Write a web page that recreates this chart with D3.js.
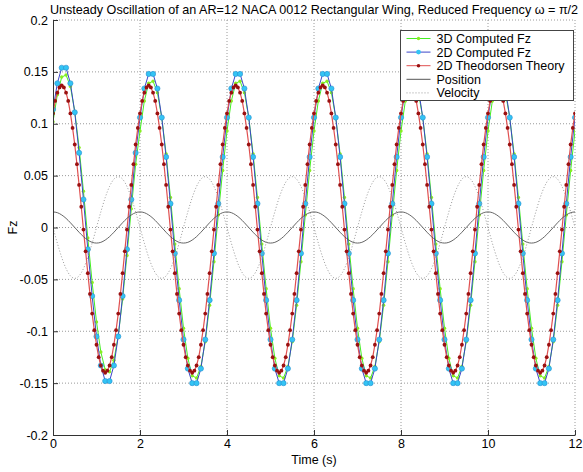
<!DOCTYPE html>
<meta charset="utf-8">
<title>Unsteady Oscillation of an AR=12 NACA 0012 Rectangular Wing</title>
<style>

body { margin: 0; background: #fff; }
text { font-family: Arial, "Liberation Sans", sans-serif; font-size: 12px; fill: #000; }
.grid line { stroke: #9a9a9a; stroke-dasharray: 1,2; }
.axis path, .axis line { stroke: #333; }

</style>
<body>

<div id="chart"></div>

<script src="https://d3js.org/d3.v7.min.js"></script>
<script>

  // sampling steps of the series (s)
  var dtComputed = 0.1,
      dtTheory = 0.05;

  var xTicks = [0, 2, 4, 6, 8, 10, 12];
  var yTicks = [-0.2, -0.15, -0.1, -0.05, 0, 0.05, 0.1, 0.15, 0.2];
  var yTickLabels = ["-0.2", "-0.15", "-0.1", "-0.05", "0", "0.05", "0.1", "0.15", "0.2"];

  var seriesNames = ["3D Computed Fz", "2D Computed Fz", "2D Theodorsen Theory", "Position", "Velocity"];

  // 3D computed Fz, every 0.1 s
  var fz3d = [
    0.102,0.128,0.145,0.147,0.136,0.112,0.077,0.035,-0.010,-0.053,-0.091,-0.120,-0.137,-0.139,-0.128,-0.104,-0.069,-0.027,0.018,0.061,
    0.093,0.122,0.139,0.141,0.130,0.106,0.071,0.029,-0.016,-0.059,-0.097,-0.126,-0.143,-0.145,-0.134,-0.110,-0.075,-0.033,0.012,0.055,
    0.093,0.122,0.139,0.141,0.130,0.106,0.071,0.029,-0.016,-0.059,-0.097,-0.126,-0.143,-0.145,-0.134,-0.110,-0.075,-0.033,0.012,0.055,
    0.093,0.122,0.139,0.141,0.130,0.106,0.071,0.029,-0.016,-0.059,-0.097,-0.126,-0.143,-0.145,-0.134,-0.110,-0.075,-0.033,0.012,0.055,
    0.093,0.122,0.139,0.141,0.130,0.106,0.071,0.029,-0.016,-0.059,-0.097,-0.126,-0.143,-0.145,-0.134,-0.110,-0.075,-0.033,0.012,0.055,
    0.093,0.122,0.139,0.141,0.130,0.106,0.071,0.029,-0.016,-0.059,-0.097,-0.126,-0.143,-0.145,-0.134,-0.110,-0.075,-0.033,0.012,0.055,
    0.093];

  // 2D computed Fz, every 0.1 s
  var fz2d = [
    0.114,0.139,0.154,0.154,0.139,0.111,0.072,0.027,-0.021,-0.066,-0.105,-0.133,-0.148,-0.148,-0.133,-0.105,-0.066,-0.021,0.027,0.072,
    0.106,0.134,0.148,0.148,0.134,0.106,0.068,0.023,-0.025,-0.070,-0.108,-0.136,-0.150,-0.150,-0.136,-0.108,-0.070,-0.025,0.023,0.068,
    0.106,0.134,0.148,0.148,0.134,0.106,0.068,0.023,-0.025,-0.070,-0.108,-0.136,-0.150,-0.150,-0.136,-0.108,-0.070,-0.025,0.023,0.068,
    0.106,0.134,0.148,0.148,0.134,0.106,0.068,0.023,-0.025,-0.070,-0.108,-0.136,-0.150,-0.150,-0.136,-0.108,-0.070,-0.025,0.023,0.068,
    0.106,0.134,0.148,0.148,0.134,0.106,0.068,0.023,-0.025,-0.070,-0.108,-0.136,-0.150,-0.150,-0.136,-0.108,-0.070,-0.025,0.023,0.068,
    0.106,0.134,0.148,0.148,0.134,0.106,0.068,0.023,-0.025,-0.070,-0.108,-0.136,-0.150,-0.150,-0.136,-0.108,-0.070,-0.025,0.023,0.068,
    0.106];

  // 2D Theodorsen theory, every 0.05 s
  var fzTheory = [
    0.110,0.122,0.130,0.135,0.137,0.135,0.130,0.122,0.110,0.096,0.080,0.061,0.041,0.020,-0.002,-0.023,-0.044,-0.064,-0.083,-0.099,
    -0.113,-0.125,-0.133,-0.138,-0.140,-0.138,-0.133,-0.125,-0.113,-0.099,-0.083,-0.064,-0.044,-0.023,-0.002,0.020,0.041,0.061,0.080,0.096,
    0.110,0.122,0.130,0.135,0.137,0.135,0.130,0.122,0.110,0.096,0.080,0.061,0.041,0.020,-0.002,-0.023,-0.044,-0.064,-0.083,-0.099,
    -0.113,-0.125,-0.133,-0.138,-0.140,-0.138,-0.133,-0.125,-0.113,-0.099,-0.083,-0.064,-0.044,-0.023,-0.002,0.020,0.041,0.061,0.080,0.096,
    0.110,0.122,0.130,0.135,0.137,0.135,0.130,0.122,0.110,0.096,0.080,0.061,0.041,0.020,-0.002,-0.023,-0.044,-0.064,-0.083,-0.099,
    -0.113,-0.125,-0.133,-0.138,-0.140,-0.138,-0.133,-0.125,-0.113,-0.099,-0.083,-0.064,-0.044,-0.023,-0.002,0.020,0.041,0.061,0.080,0.096,
    0.110,0.122,0.130,0.135,0.137,0.135,0.130,0.122,0.110,0.096,0.080,0.061,0.041,0.020,-0.002,-0.023,-0.044,-0.064,-0.083,-0.099,
    -0.113,-0.125,-0.133,-0.138,-0.140,-0.138,-0.133,-0.125,-0.113,-0.099,-0.083,-0.064,-0.044,-0.023,-0.002,0.020,0.041,0.061,0.080,0.096,
    0.110,0.122,0.130,0.135,0.137,0.135,0.130,0.122,0.110,0.096,0.080,0.061,0.041,0.020,-0.002,-0.023,-0.044,-0.064,-0.083,-0.099,
    -0.113,-0.125,-0.133,-0.138,-0.140,-0.138,-0.133,-0.125,-0.113,-0.099,-0.083,-0.064,-0.044,-0.023,-0.002,0.020,0.041,0.061,0.080,0.096,
    0.110,0.122,0.130,0.135,0.137,0.135,0.130,0.122,0.110,0.096,0.080,0.061,0.041,0.020,-0.002,-0.023,-0.044,-0.064,-0.083,-0.099,
    -0.113,-0.125,-0.133,-0.138,-0.140,-0.138,-0.133,-0.125,-0.113,-0.099,-0.083,-0.064,-0.044,-0.023,-0.002,0.020,0.041,0.061,0.080,0.096,
    0.110];

  // wing position (scaled), every 0.1 s
  var position = [
    0.0150,0.0143,0.0121,0.0088,0.0046,0.0000,-0.0046,-0.0088,-0.0121,-0.0143,-0.0150,-0.0143,-0.0121,-0.0088,-0.0046,0.0000,0.0046,0.0088,0.0121,0.0143,
    0.0150,0.0143,0.0121,0.0088,0.0046,0.0000,-0.0046,-0.0088,-0.0121,-0.0143,-0.0150,-0.0143,-0.0121,-0.0088,-0.0046,0.0000,0.0046,0.0088,0.0121,0.0143,
    0.0150,0.0143,0.0121,0.0088,0.0046,0.0000,-0.0046,-0.0088,-0.0121,-0.0143,-0.0150,-0.0143,-0.0121,-0.0088,-0.0046,0.0000,0.0046,0.0088,0.0121,0.0143,
    0.0150,0.0143,0.0121,0.0088,0.0046,0.0000,-0.0046,-0.0088,-0.0121,-0.0143,-0.0150,-0.0143,-0.0121,-0.0088,-0.0046,0.0000,0.0046,0.0088,0.0121,0.0143,
    0.0150,0.0143,0.0121,0.0088,0.0046,0.0000,-0.0046,-0.0088,-0.0121,-0.0143,-0.0150,-0.0143,-0.0121,-0.0088,-0.0046,0.0000,0.0046,0.0088,0.0121,0.0143,
    0.0150,0.0143,0.0121,0.0088,0.0046,0.0000,-0.0046,-0.0088,-0.0121,-0.0143,-0.0150,-0.0143,-0.0121,-0.0088,-0.0046,0.0000,0.0046,0.0088,0.0121,0.0143,
    0.0150];

  // wing velocity (scaled), every 0.1 s
  var velocity = [
    0.0000,-0.0151,-0.0288,-0.0396,-0.0466,-0.0490,-0.0466,-0.0396,-0.0288,-0.0151,0.0000,0.0151,0.0288,0.0396,0.0466,0.0490,0.0466,0.0396,0.0288,0.0151,
    0.0000,-0.0151,-0.0288,-0.0396,-0.0466,-0.0490,-0.0466,-0.0396,-0.0288,-0.0151,0.0000,0.0151,0.0288,0.0396,0.0466,0.0490,0.0466,0.0396,0.0288,0.0151,
    0.0000,-0.0151,-0.0288,-0.0396,-0.0466,-0.0490,-0.0466,-0.0396,-0.0288,-0.0151,0.0000,0.0151,0.0288,0.0396,0.0466,0.0490,0.0466,0.0396,0.0288,0.0151,
    0.0000,-0.0151,-0.0288,-0.0396,-0.0466,-0.0490,-0.0466,-0.0396,-0.0288,-0.0151,0.0000,0.0151,0.0288,0.0396,0.0466,0.0490,0.0466,0.0396,0.0288,0.0151,
    0.0000,-0.0151,-0.0288,-0.0396,-0.0466,-0.0490,-0.0466,-0.0396,-0.0288,-0.0151,0.0000,0.0151,0.0288,0.0396,0.0466,0.0490,0.0466,0.0396,0.0288,0.0151,
    0.0000,-0.0151,-0.0288,-0.0396,-0.0466,-0.0490,-0.0466,-0.0396,-0.0288,-0.0151,0.0000,0.0151,0.0288,0.0396,0.0466,0.0490,0.0466,0.0396,0.0288,0.0151,
    0.0000];

  var margin = {top: 20, right: 8, bottom: 37, left: 53},
      width = 583 - margin.left - margin.right,
      height = 472 - margin.top - margin.bottom;

  var svg = d3.select("#chart").append("svg")
      .attr("width", 583)
      .attr("height", 472)
    .append("g")
      .attr("transform", "translate(" + margin.left + "," + margin.top + ")");

  var x = d3.scaleLinear().domain([0, 12]).range([0, width]);
  var y = d3.scaleLinear().domain([-0.2, 0.2]).range([height, 0]);

  // dotted grid, edges included (matlab style, box off)
  var grid = svg.append("g").attr("class", "grid");
  grid.selectAll(".gx").data(xTicks.slice(1)).enter().append("line")
      .attr("x1", function(d) { return x(d); })
      .attr("x2", function(d) { return x(d); })
      .attr("y1", 0).attr("y2", height);
  grid.selectAll(".gy").data(yTicks.slice(1)).enter().append("line")
      .attr("x1", 0).attr("x2", width)
      .attr("y1", function(d) { return y(d); })
      .attr("y2", function(d) { return y(d); });

  svg.append("clipPath").attr("id", "clip")
    .append("rect").attr("width", width).attr("height", height);

  var plot = svg.append("g").attr("clip-path", "url(#clip)");

  function pts(values, dt) {
    return values.map(function(v, i) { return [i * dt, v]; });
  }

  var line = d3.line()
      .x(function(d) { return x(d[0]); })
      .y(function(d) { return y(d[1]); });

  // 3D computed
  plot.append("path").datum(pts(fz3d, dtComputed))
      .attr("d", line).attr("fill", "none").attr("stroke", "#44ee22").attr("stroke-width", 1);
  plot.selectAll(".m3d").data(pts(fz3d, dtComputed)).enter().append("circle")
      .attr("cx", function(d) { return x(d[0]); })
      .attr("cy", function(d) { return y(d[1]); })
      .attr("r", 1.7).attr("fill", "#88ee22");

  // 2D computed
  plot.append("path").datum(pts(fz2d, dtComputed))
      .attr("d", line).attr("fill", "none").attr("stroke", "#3b45c8").attr("stroke-width", 1);
  plot.selectAll(".m2d").data(pts(fz2d, dtComputed)).enter().append("circle")
      .attr("cx", function(d) { return x(d[0]); })
      .attr("cy", function(d) { return y(d[1]); })
      .attr("r", 2.6).attr("fill", "#33c4f4").attr("stroke", "#2a8fd0").attr("stroke-width", 0.6);

  // Theodorsen
  plot.append("path").datum(pts(fzTheory, dtTheory))
      .attr("d", line).attr("fill", "none").attr("stroke", "#e05050").attr("stroke-width", 1.2);
  plot.selectAll(".mth").data(pts(fzTheory, dtTheory)).enter().append("circle")
      .attr("cx", function(d) { return x(d[0]); })
      .attr("cy", function(d) { return y(d[1]); })
      .attr("r", 1.9).attr("fill", "#9a1010");

  // position / velocity
  plot.append("path").datum(pts(position, dtComputed))
      .attr("d", line.curve(d3.curveMonotoneX)).attr("fill", "none").attr("stroke", "#555").attr("stroke-width", 0.9);
  plot.append("path").datum(pts(velocity, dtComputed))
      .attr("d", line).attr("fill", "none").attr("stroke", "#999")
      .attr("stroke-width", 1).attr("stroke-dasharray", "1,2");

  // axes, ticks pointing inward
  svg.append("g").attr("class", "axis")
      .attr("transform", "translate(0," + height + ")")
      .call(d3.axisBottom(x).tickValues(xTicks).tickSize(-5).tickPadding(4).tickSizeOuter(0))
      .call(function(g) { g.selectAll("text").style("font-size", "12.5px").attr("fill", "#000"); });

  svg.append("g").attr("class", "axis")
      .call(d3.axisLeft(y).tickValues(yTicks).tickSize(-5).tickPadding(5).tickSizeOuter(0)
        .tickFormat(function(d, i) { return yTickLabels[i]; }))
      .call(function(g) { g.selectAll("text").style("font-size", "12.5px").attr("fill", "#000"); });

  // title and labels
  svg.append("text")
      .attr("x", width / 2).attr("y", -6)
      .attr("text-anchor", "middle")
      .style("font-size", "12.6px")
      .text("Unsteady Oscillation of an AR=12 NACA 0012 Rectangular Wing, Reduced Frequency \u03c9 = \u03c0/2");

  svg.append("text")
      .attr("x", width / 2).attr("y", height + 29)
      .attr("text-anchor", "middle")
      .style("font-size", "12.5px")
      .text("Time (s)");

  svg.append("text")
      .attr("transform", "translate(" + (17 - margin.left) + "," + y(0) + ") rotate(-90)")
      .attr("text-anchor", "middle")
      .style("font-size", "12.5px")
      .text("Fz");

  // legend
  var legend = svg.append("g").attr("transform", "translate(" + (400.5 - margin.left) + "," + (30.5 - margin.top) + ")");
  legend.append("rect").attr("width", 173).attr("height", 70)
      .attr("fill", "#fff").attr("stroke", "#444").attr("stroke-width", 1);

  var legendStyle = [
    {stroke: "#44ee22", dash: null, marker: "#88ee22", r: 1.7},
    {stroke: "#3b45c8", dash: null, marker: "#33c4f4", r: 2.4},
    {stroke: "#e05050", dash: null, marker: "#9a1010", r: 1.8},
    {stroke: "#555", dash: null, marker: null},
    {stroke: "#999", dash: "1,2", marker: null}
  ];

  var rows = legend.selectAll(".row").data(seriesNames).enter().append("g")
      .attr("transform", function(d, i) { return "translate(0," + (8 + i * 13.6) + ")"; });
  rows.append("line")
      .attr("x1", 6).attr("x2", 30)
      .attr("stroke", function(d, i) { return legendStyle[i].stroke; })
      .attr("stroke-dasharray", function(d, i) { return legendStyle[i].dash; });
  rows.filter(function(d, i) { return legendStyle[i].marker; }).append("circle")
      .attr("cx", 18)
      .attr("r", function(d) { return legendStyle[seriesNames.indexOf(d)].r; })
      .attr("fill", function(d) { return legendStyle[seriesNames.indexOf(d)].marker; });
  rows.append("text").attr("x", 36).attr("y", 4.5)
      .style("font-size", "12.5px")
      .text(function(d) { return d; });

</script>

</body>
</html>
